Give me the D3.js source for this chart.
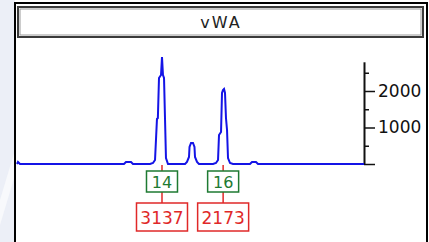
<!doctype html>
<html>
  <head>
    <meta charset="utf-8">
    <title>vWA electropherogram</title>
    <script src="https://cdnjs.cloudflare.com/ajax/libs/d3/7.8.5/d3.min.js"></script>
    <style>
      body { margin: 0; background: #fff; }
      svg { display: block; font-family: "DejaVu Sans", sans-serif; }
    </style>
  </head>
  <body>
    <div id="chart"></div>
    <script>
      // trace: size in bp, height in RFU
      let traceBp  = [150.67, 150.8, 151.07, 164.93, 165.2, 165.87, 166.13, 168.4, 168.8, 169.07, 169.33, 169.45, 169.6, 169.87, 170, 170.13, 170.27, 170.4, 170.53, 170.8,
                      173.07, 173.33, 173.6, 173.67, 173.87, 174.13, 174.33, 174.4, 174.67, 174.93,
                      176.8, 177.2, 177.47, 177.6, 177.87, 178, 178.13, 178.27, 178.4, 178.53, 178.67, 178.8, 179.07, 179.47,
                      181.73, 182, 182.53, 182.8, 196.93];
      let traceRfu = [0, 55, 0, 0, 55, 55, 0, 0, 27, 110, 1233, 1260, 2356, 2438, 2932, 2438, 2356, 1260, 164, 0,
                      0, 55, 192, 466, 575, 575, 466, 192, 55, 0,
                      0, 27, 110, 795, 877, 1945, 2027, 2055, 1945, 1260, 932, 164, 27, 0,
                      0, 55, 55, 0, 0];

      let locus = "vWA";
      let alleles = ["14", "16"];
      let alleleBp = [170.0, 178.15];
      let alleleHeights = [3137, 2173];

      let yTicks = [0, 500, 1000, 1500, 2000, 2500];
      let yLabels = [1000, 2000];

      const W = 429, H = 242;
      const svg = d3.select("#chart").append("svg")
        .attr("width", W)
        .attr("height", H);

      // slide background on the left
      svg.append("rect").attr("x", 0).attr("y", 0).attr("width", 15).attr("height", H).attr("fill", "#eceff7");
      svg.append("path").attr("d", "M0,200 L15,150 L15,175 L0,225 Z").attr("fill", "#f8f9fc");

      // outer frame
      svg.append("path")
        .attr("d", "M15,242 V3 H427 V242")
        .attr("fill", "none")
        .attr("stroke", "#000")
        .attr("stroke-width", 2);

      // title box
      svg.append("rect").attr("x", 18).attr("y", 7).attr("width", 405).attr("height", 30)
        .attr("fill", "#fff").attr("stroke", "#3a3a3a").attr("stroke-width", 2);
      svg.append("rect").attr("x", 20).attr("y", 9).attr("width", 401).attr("height", 26)
        .attr("fill", "none").attr("stroke", "#9a9a9a").attr("stroke-width", 1);
      svg.append("text")
        .attr("x", 221).attr("y", 28)
        .attr("text-anchor", "middle")
        .style("font-size", "16px")
        .style("letter-spacing", "2px")
        .attr("fill", "#222")
        .text(locus);

      // scales
      let x = d3.scaleLinear().domain([150.67, 196.93]).range([17, 364]);
      let y = d3.scaleLinear().domain([0, 2800]).range([164, 61.8]);

      // y axis on the right
      let axis = d3.axisRight(y)
        .tickValues(yTicks)
        .tickSize(0)
        .tickFormat(d => yLabels.includes(d) ? d : "");
      let gAxis = svg.append("g")
        .attr("transform", "translate(364,0)")
        .call(axis);
      gAxis.select(".domain").attr("stroke", "#111").attr("stroke-width", 2);
      gAxis.selectAll(".tick line")
        .attr("x2", d => (d % 1000 === 0) ? 11 : 5)
        .attr("stroke", "#111")
        .attr("stroke-width", 1.5);
      gAxis.selectAll(".tick text")
        .attr("x", 14)
        .attr("fill", "#111")
        .style("font-size", "17px")
        .style("font-family", "'DejaVu Sans', sans-serif");

      // trace
      let line = d3.line()
        .x(d => x(d[0]))
        .y(d => y(d[1]));
      svg.append("path")
        .datum(d3.zip(traceBp, traceRfu))
        .attr("d", line)
        .attr("fill", "none")
        .attr("stroke", "#1414e6")
        .attr("stroke-width", 2)
        .attr("stroke-linejoin", "miter");

      // allele labels
      let lab = svg.selectAll("g.allele")
        .data(d3.zip(alleles, alleleBp, alleleHeights))
        .join("g")
        .attr("class", "allele")
        .attr("transform", d => `translate(${x(d[1])},0)`);

      lab.append("line")
        .attr("y1", 165).attr("y2", 171)
        .attr("stroke", "#e02828").attr("stroke-width", 1.5);
      lab.append("line")
        .attr("y1", 192).attr("y2", 203)
        .attr("stroke", "#e02828").attr("stroke-width", 1.5);

      lab.append("rect")
        .attr("x", -15.5).attr("y", 171).attr("width", 31).attr("height", 21)
        .attr("fill", "#fff").attr("stroke", "#1e7a32").attr("stroke-width", 1.5);
      lab.append("text")
        .attr("y", 188)
        .attr("text-anchor", "middle")
        .attr("fill", "#1e7a32")
        .style("font-size", "16px")
        .text(d => d[0]);

      lab.append("rect")
        .attr("x", -25.5).attr("y", 203).attr("width", 51).attr("height", 28)
        .attr("fill", "#fff").attr("stroke", "#e02828").attr("stroke-width", 1.5);
      lab.append("text")
        .attr("y", 223.5)
        .attr("text-anchor", "middle")
        .attr("fill", "#e02828")
        .style("font-size", "17px")
        .text(d => d[2]);
    </script>
  </body>
</html>
